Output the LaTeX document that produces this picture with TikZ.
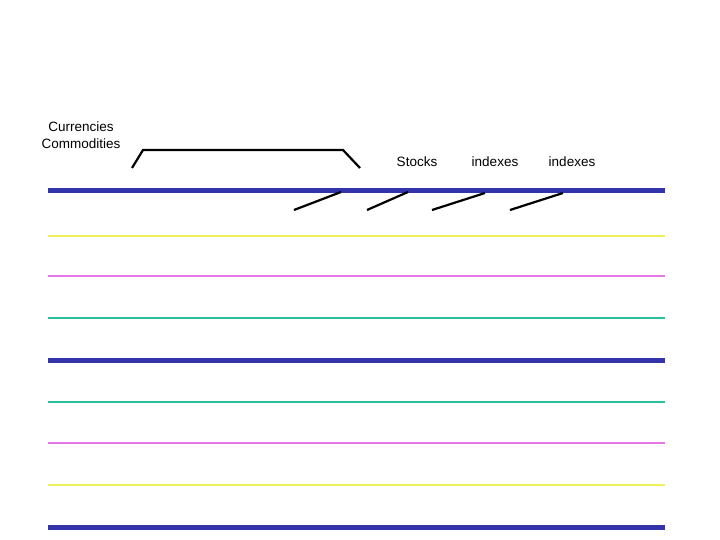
\documentclass[tikz,border=0pt]{standalone}
\usepackage{fontspec}
\setmainfont{Liberation Sans}
\begin{document}
\begin{tikzpicture}[x=1pt,y=-1pt,
  lbl/.style={font=\fontsize{13.5}{16}\selectfont,inner sep=0pt},
  tick/.style={line width=2.2pt,black},
  bl/.style={line width=5pt,color={rgb,255:red,51;green,51;blue,170}},
  ye/.style={line width=2.5pt,color={rgb,255:red,240;green,240;blue,90}},
  vi/.style={line width=2.5pt,color={rgb,255:red,230;green,120;blue,230}},
  te/.style={line width=2.5pt,color={rgb,255:red,40;green,190;blue,160}}]
\useasboundingbox (0,0) rectangle (720,540);
\foreach \y/\s in {191/bl,236/ye,276/vi,318/te,360/bl,402/te,443/vi,485/ye,527/bl}
  \draw[\s] (48,\y) -- (665,\y);
\node[lbl] (cur) at (81,127) {Currencies};
\node[lbl] (com) at (81,144) {Commodities};
\node[lbl] (sto) at (417,162) {Stocks};
\node[lbl] (ix1) at (495,162) {indexes};
\node[lbl] (ix2) at (572,162) {indexes};
\coordinate (b1) at (132,168); \coordinate (b2) at (143,150);
\coordinate (b3) at (343,150); \coordinate (b4) at (360,168);
\draw[tick] (b1) -- (b2) -- (b3) -- (b4);
\coordinate (t1a) at (294,210); \coordinate (t1b) at (341,192);
\coordinate (t2a) at (367,210); \coordinate (t2b) at (408,192);
\coordinate (t3a) at (432,210); \coordinate (t3b) at (485,193);
\coordinate (t4a) at (510,210); \coordinate (t4b) at (563,193);
\draw[tick] (t1a) -- (t1b);
\draw[tick] (t2a) -- (t2b);
\draw[tick] (t3a) -- (t3b);
\draw[tick] (t4a) -- (t4b);
\end{tikzpicture}
\end{document}
